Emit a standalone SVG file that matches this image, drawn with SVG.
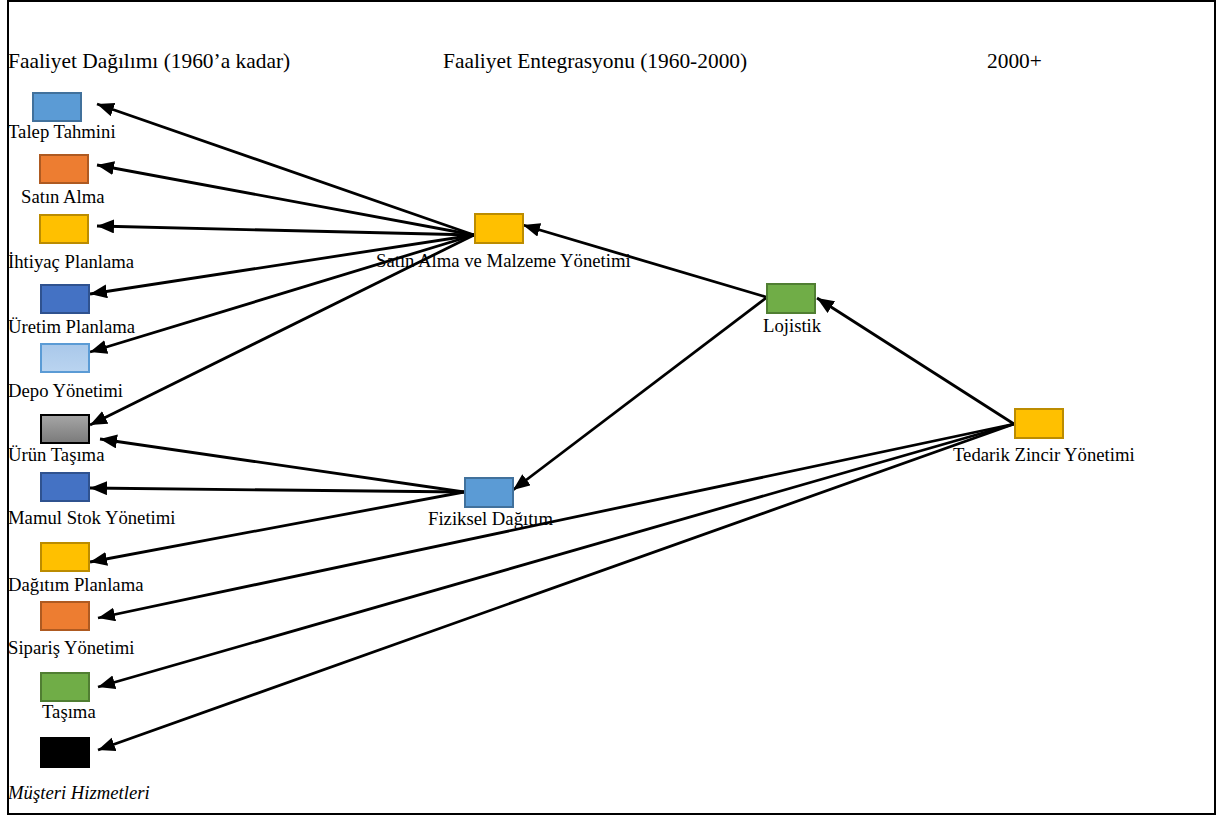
<svg xmlns="http://www.w3.org/2000/svg" width="1217" height="817" viewBox="0 0 1217 817">
<style>
.t{font-family:"Liberation Serif","Times New Roman",serif;font-size:18.7px;fill:#000}
.h{font-family:"Liberation Serif","Times New Roman",serif;font-size:21.4px;fill:#000}
.c line{stroke:#000;stroke-width:2.8;marker-end:url(#ah)}
.b{stroke-width:2}
.blue{fill:#5B9BD5;stroke:#41719C}
.orange{fill:#ED7D31;stroke:#AE5A21}
.yellow{fill:#FFC000;stroke:#BC8C00}
.dblue{fill:#4472C4;stroke:#2F528F}
.lblue{fill:url(#gl);stroke:#5B9BD5}
.gray{fill:url(#gg);stroke:#000}
.green{fill:#70AD47;stroke:#507E32}
.black{fill:#000;stroke:#000}
</style>
<defs>
<marker id="ah" markerUnits="userSpaceOnUse" markerWidth="19" markerHeight="15" refX="17" refY="7" orient="auto">
<path d="M0,0 L17,7 L0,14 z" fill="#000"/>
</marker>
<linearGradient id="gl" x1="0" y1="0" x2="0" y2="1"><stop offset="0" stop-color="#A9C8EA"/><stop offset="1" stop-color="#BAD4F0"/></linearGradient>
<linearGradient id="gg" x1="0" y1="0" x2="0" y2="1"><stop offset="0" stop-color="#A6A6A6"/><stop offset="1" stop-color="#7A7A7A"/></linearGradient>
</defs>
<rect x="0" y="0" width="1217" height="817" fill="#fff"/>
<rect x="8" y="1" width="1207" height="813" fill="none" stroke="#000" stroke-width="2"/>

<g id="headers">
<text class="h" x="8" y="68">Faaliyet Dağılımı (1960’a kadar)</text>
<text class="h" x="443" y="68">Faaliyet Entegrasyonu (1960-2000)</text>
<text class="h" x="987" y="68">2000+</text>
</g>

<g class="c" id="connectors">
<line x1="474" y1="235" x2="97" y2="104"/>
<line x1="474" y1="235" x2="97" y2="165"/>
<line x1="474" y1="235" x2="97" y2="226"/>
<line x1="474" y1="235" x2="90" y2="294"/>
<line x1="474" y1="235" x2="90" y2="352"/>
<line x1="474" y1="235" x2="90" y2="425"/>
<line x1="464" y1="492" x2="100" y2="439"/>
<line x1="464" y1="492" x2="90" y2="488"/>
<line x1="464" y1="492" x2="90" y2="562"/>
<line x1="1014" y1="424" x2="98" y2="618"/>
<line x1="1014" y1="424" x2="98" y2="687"/>
<line x1="1014" y1="424" x2="98" y2="750"/>
<line x1="766" y1="297" x2="523" y2="225"/>
<line x1="766" y1="298" x2="513" y2="490"/>
<line x1="1014" y1="424" x2="817" y2="298"/>
</g>

<g id="n-talep"><rect class="b blue" x="33" y="93" width="48" height="28"/><text class="t" x="8" y="138">Talep Tahmini</text></g>
<g id="n-satin"><rect class="b orange" x="40" y="155" width="48" height="28"/><text class="t" x="21" y="203">Satın Alma</text></g>
<g id="n-ihtiyac"><rect class="b yellow" x="40" y="215" width="48" height="28"/><text class="t" x="8" y="268">İhtiyaç Planlama</text></g>
<g id="n-uretim"><rect class="b dblue" x="41" y="285" width="48" height="28"/><text class="t" x="8" y="333">Üretim Planlama</text></g>
<g id="n-depo"><rect class="b lblue" x="41" y="344" width="48" height="28"/><text class="t" x="8" y="397">Depo Yönetimi</text></g>
<g id="n-urun"><rect class="b gray" x="41" y="415" width="48" height="28"/><text class="t" x="8" y="461">Ürün Taşıma</text></g>
<g id="n-mamul"><rect class="b dblue" x="41" y="473" width="48" height="28"/><text class="t" x="8" y="524">Mamul Stok Yönetimi</text></g>
<g id="n-dagitim"><rect class="b yellow" x="41" y="543" width="48" height="28"/><text class="t" x="8" y="591">Dağıtım Planlama</text></g>
<g id="n-siparis"><rect class="b orange" x="41" y="602" width="48" height="28"/><text class="t" x="8" y="654">Sipariş Yönetimi</text></g>
<g id="n-tasima"><rect class="b green" x="41" y="673" width="48" height="28"/><text class="t" x="42" y="718">Taşıma</text></g>
<g id="n-musteri"><rect class="b black" x="41" y="738" width="48" height="29"/><text class="t" x="8" y="799" font-style="italic">Müşteri Hizmetleri</text></g>

<g id="n-satinalma-malzeme"><rect class="b yellow" x="475" y="214" width="48" height="29"/><text class="t" x="376" y="267">Satın Alma ve Malzeme Yönetimi</text></g>
<g id="n-fiziksel"><rect class="b blue" x="465" y="478" width="48" height="29"/><text class="t" x="428" y="525">Fiziksel Dağıtım</text></g>
<g id="n-lojistik"><rect class="b green" x="767" y="284" width="48" height="29"/><text class="t" x="763" y="332">Lojistik</text></g>
<g id="n-tedarik"><rect class="b yellow" x="1015" y="409" width="48" height="29"/><text class="t" x="953" y="461">Tedarik Zincir Yönetimi</text></g>
</svg>
